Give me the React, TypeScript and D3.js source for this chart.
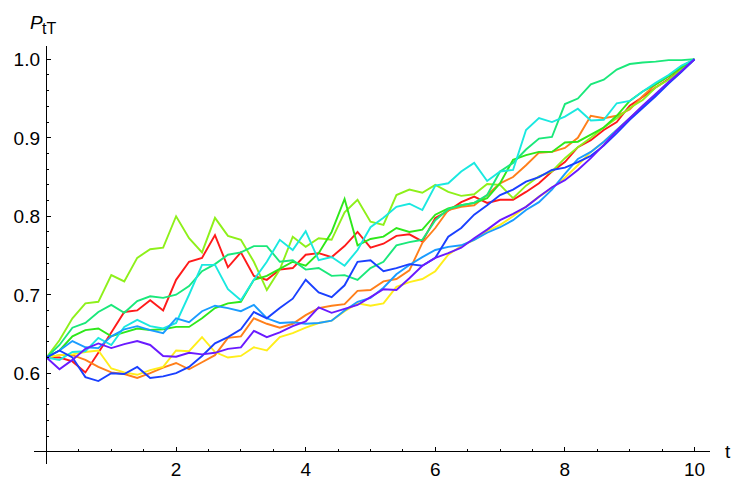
import React from 'react';
import * as d3 from 'd3';

// time grid (step 0.2) shared by all paths
const T: number[] = d3.range(51).map((i) => +(i * 0.2).toFixed(1));

const red = [0.62, 0.62, 0.615, 0.601, 0.626, 0.652, 0.678, 0.68, 0.693, 0.68, 0.719, 0.742, 0.747, 0.776, 0.735, 0.754, 0.724, 0.719, 0.732, 0.734, 0.751, 0.753, 0.748, 0.762, 0.78, 0.76, 0.765, 0.775, 0.777, 0.768, 0.798, 0.807, 0.818, 0.825, 0.817, 0.821, 0.821, 0.831, 0.842, 0.857, 0.869, 0.888, 0.897, 0.91, 0.92, 0.941, 0.952, 0.964, 0.975, 0.988, 1.0];
const orange = [0.62, 0.623, 0.623, 0.617, 0.608, 0.601, 0.599, 0.594, 0.6, 0.607, 0.613, 0.605, 0.614, 0.623, 0.645, 0.647, 0.67, 0.663, 0.658, 0.663, 0.674, 0.683, 0.686, 0.688, 0.705, 0.706, 0.717, 0.72, 0.731, 0.766, 0.785, 0.808, 0.812, 0.814, 0.827, 0.842, 0.85, 0.865, 0.881, 0.882, 0.887, 0.9, 0.928, 0.925, 0.928, 0.936, 0.953, 0.968, 0.979, 0.991, 1.0];
const yellow = [0.62, 0.623, 0.624, 0.627, 0.629, 0.606, 0.601, 0.598, 0.604, 0.608, 0.629, 0.628, 0.646, 0.627, 0.62, 0.622, 0.633, 0.629, 0.646, 0.651, 0.658, 0.664, 0.667, 0.679, 0.689, 0.686, 0.689, 0.71, 0.716, 0.72, 0.73, 0.751, 0.762, 0.77, 0.781, 0.789, 0.8, 0.812, 0.825, 0.836, 0.849, 0.865, 0.882, 0.895, 0.91, 0.925, 0.94, 0.955, 0.97, 0.985, 1.0];
const chartreuse = [0.62, 0.642, 0.67, 0.689, 0.691, 0.725, 0.717, 0.747, 0.758, 0.76, 0.8, 0.772, 0.754, 0.798, 0.775, 0.77, 0.742, 0.706, 0.732, 0.774, 0.761, 0.772, 0.77, 0.805, 0.821, 0.793, 0.789, 0.827, 0.834, 0.83, 0.84, 0.831, 0.826, 0.828, 0.841, 0.84, 0.823, 0.839, 0.851, 0.857, 0.874, 0.888, 0.9, 0.913, 0.925, 0.938, 0.948, 0.964, 0.974, 0.987, 1.0];
const green = [0.62, 0.629, 0.647, 0.655, 0.657, 0.647, 0.652, 0.657, 0.655, 0.656, 0.659, 0.659, 0.67, 0.683, 0.689, 0.691, 0.719, 0.724, 0.733, 0.742, 0.737, 0.753, 0.78, 0.822, 0.763, 0.771, 0.774, 0.785, 0.78, 0.783, 0.802, 0.81, 0.814, 0.817, 0.823, 0.842, 0.872, 0.878, 0.882, 0.882, 0.894, 0.895, 0.904, 0.913, 0.928, 0.947, 0.959, 0.968, 0.978, 0.99, 1.0];
const spring = [0.62, 0.636, 0.658, 0.664, 0.678, 0.687, 0.677, 0.692, 0.698, 0.696, 0.7, 0.711, 0.73, 0.739, 0.751, 0.754, 0.762, 0.762, 0.742, 0.744, 0.732, 0.734, 0.724, 0.725, 0.719, 0.734, 0.742, 0.763, 0.767, 0.77, 0.795, 0.809, 0.814, 0.817, 0.827, 0.857, 0.868, 0.885, 0.899, 0.901, 0.943, 0.95, 0.968, 0.974, 0.987, 0.994, 0.996, 0.997, 0.999, 0.999, 1.0];
const cyan = [0.62, 0.617, 0.627, 0.628, 0.645, 0.636, 0.659, 0.668, 0.66, 0.657, 0.664, 0.7, 0.738, 0.738, 0.707, 0.693, 0.719, 0.742, 0.77, 0.757, 0.781, 0.744, 0.748, 0.737, 0.757, 0.786, 0.798, 0.812, 0.816, 0.808, 0.839, 0.842, 0.857, 0.868, 0.845, 0.857, 0.859, 0.91, 0.925, 0.92, 0.927, 0.937, 0.922, 0.923, 0.944, 0.947, 0.959, 0.97, 0.98, 0.992, 1.0];
const azure = [0.62, 0.629, 0.641, 0.633, 0.632, 0.647, 0.656, 0.66, 0.655, 0.651, 0.67, 0.665, 0.679, 0.686, 0.683, 0.679, 0.687, 0.67, 0.664, 0.665, 0.663, 0.664, 0.667, 0.68, 0.691, 0.696, 0.709, 0.726, 0.738, 0.748, 0.757, 0.761, 0.763, 0.77, 0.779, 0.786, 0.795, 0.808, 0.818, 0.834, 0.854, 0.873, 0.882, 0.895, 0.91, 0.925, 0.939, 0.955, 0.97, 0.985, 1.0];
const blue = [0.62, 0.629, 0.62, 0.595, 0.59, 0.6, 0.599, 0.608, 0.594, 0.596, 0.6, 0.608, 0.622, 0.638, 0.646, 0.656, 0.678, 0.67, 0.683, 0.695, 0.719, 0.703, 0.697, 0.712, 0.742, 0.744, 0.73, 0.734, 0.739, 0.737, 0.747, 0.774, 0.785, 0.802, 0.814, 0.827, 0.834, 0.844, 0.85, 0.859, 0.862, 0.869, 0.877, 0.89, 0.906, 0.923, 0.938, 0.953, 0.969, 0.984, 1.0];
const violet = [0.62, 0.605, 0.617, 0.631, 0.638, 0.632, 0.637, 0.641, 0.636, 0.622, 0.621, 0.626, 0.624, 0.626, 0.631, 0.633, 0.654, 0.646, 0.652, 0.66, 0.666, 0.684, 0.677, 0.682, 0.687, 0.697, 0.707, 0.706, 0.721, 0.737, 0.747, 0.753, 0.76, 0.772, 0.783, 0.795, 0.803, 0.812, 0.825, 0.837, 0.846, 0.859, 0.874, 0.891, 0.909, 0.925, 0.941, 0.956, 0.971, 0.985, 1.0];

const seriesList = [red, orange, yellow, chartreuse, green, spring, cyan, azure, blue, violet];
const seriesColors = ['#ff1a1a', '#ff7f1a', '#ffee1a', '#8ef01a', '#2ee81a', '#1ae87a', '#1ae8e0', '#1a9cff', '#1a40ff', '#6a1aff'];

const xMajor = [2, 4, 6, 8, 10];
const yMajor = [0.6, 0.7, 0.8, 0.9, 1.0];
const xMinor = d3.range(1, 21).map((i) => i * 0.5);
const yMinor = d3.range(1, 26).map((i) => 0.5 + i * 0.02);

const W = 740;
const H = 482;
const FONT = '"Liberation Sans", Arial, sans-serif';

export default function App() {
  const x = d3.scaleLinear().domain([0, 10]).range([46.5, 694.5]);
  const y = d3.scaleLinear().domain([0.5, 1.0]).range([451.7, 59.3]);
  const line = d3
    .line<number>()
    .x((_, i) => x(T[i]))
    .y((d) => y(d));

  const x0 = x(0);
  const yb = y(0.5);

  return (
    <svg
      width={W}
      height={H}
      viewBox={`0 0 ${W} ${H}`}
      style={{ position: 'absolute', left: 0, top: 0, background: '#fff' }}
    >
      <g>
        {seriesList.map((s, i) => (
          <path key={i} d={line(s) || ''} fill="none" stroke={seriesColors[i]} strokeWidth={1.9} />
        ))}
      </g>
      {/* axes */}
      <g stroke="#000" strokeWidth={1} shapeRendering="crispEdges">
        <line x1={33.5} x2={710} y1={yb} y2={yb} />
        <line x1={x0} x2={x0} y1={463.5} y2={46} />
        {xMinor.map((v) => {
          const major = xMajor.some((m) => Math.abs(m - v) < 1e-9);
          return <line key={'xm' + v} x1={x(v)} x2={x(v)} y1={yb} y2={yb - (major ? 4.5 : 2.6)} />;
        })}
        {yMinor.map((v) => {
          const major = yMajor.some((m) => Math.abs(m - v) < 1e-9);
          return <line key={'ym' + v} x1={x0} x2={x0 + (major ? 4.5 : 2.6)} y1={y(v)} y2={y(v)} />;
        })}
      </g>
      <g fontFamily={FONT} fontSize={19} fill="#000">
        {xMajor.map((v) => (
          <text key={'xl' + v} x={x(v)} y={476} textAnchor="middle">
            {String(v)}
          </text>
        ))}
        {yMajor.map((v) => (
          <text key={'yl' + v} x={40} y={y(v) + 7} textAnchor="end">
            {v.toFixed(1)}
          </text>
        ))}
        <text x={725} y={458}>t</text>
        <text x={30} y={28.5} fontStyle="italic">P</text>
        <text x={42} y={33.5} fontSize={16}>tT</text>
      </g>
    </svg>
  );
}
